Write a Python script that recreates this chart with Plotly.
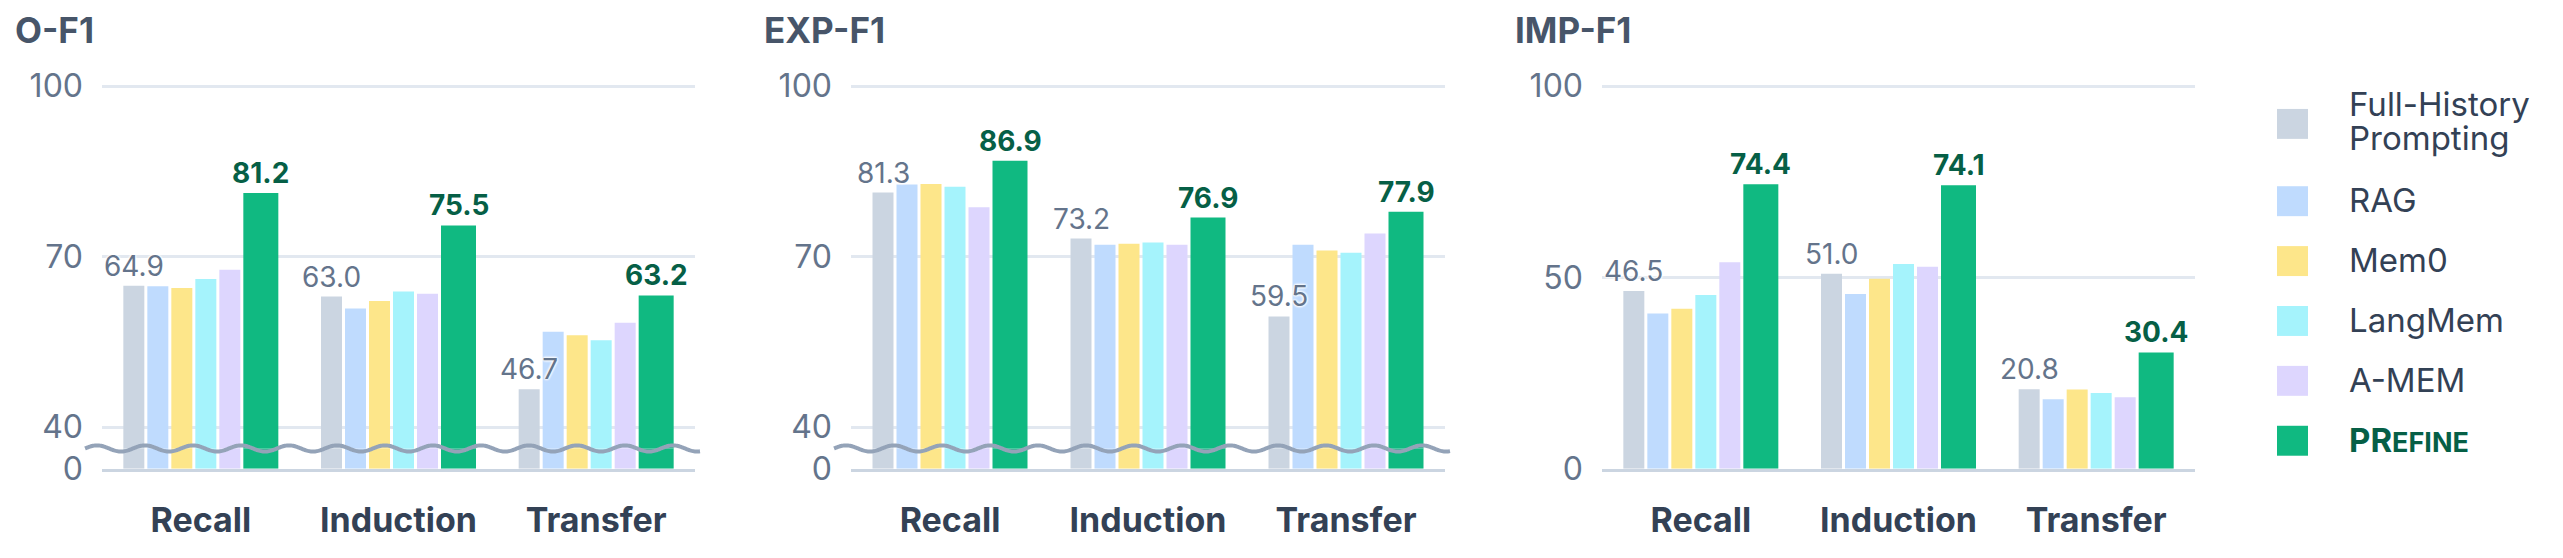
import math
import plotly.graph_objects as go

# ---------------- data ----------------
CATEGORIES = ["Recall", "Induction", "Transfer"]
SERIES = ["Full-History Prompting", "RAG", "Mem0", "LangMem", "A-MEM", "PRefine"]
COLORS = ["#cbd5e1", "#bfdbfe", "#fde68a", "#a5f3fc", "#ddd6fe", "#10b981"]
PANEL_TITLES = ["O-F1", "EXP-F1", "IMP-F1"]

# O-F1
OF1_FULL_HISTORY = [64.9, 63.0, 46.7]
OF1_RAG = [64.8, 60.9, 56.8]
OF1_MEM0 = [64.5, 62.2, 56.2]
OF1_LANGMEM = [66.1, 63.9, 55.3]
OF1_AMEM = [67.7, 63.5, 58.4]
OF1_PREFINE = [81.2, 75.5, 63.2]

# EXP-F1
EXPF1_FULL_HISTORY = [81.3, 73.2, 59.5]
EXPF1_RAG = [82.7, 72.1, 72.1]
EXPF1_MEM0 = [82.8, 72.3, 71.1]
EXPF1_LANGMEM = [82.3, 72.5, 70.7]
EXPF1_AMEM = [78.7, 72.1, 74.1]
EXPF1_PREFINE = [86.9, 76.9, 77.9]

# IMP-F1
IMPF1_FULL_HISTORY = [46.5, 51.0, 20.8]
IMPF1_RAG = [40.6, 45.7, 18.2]
IMPF1_MEM0 = [41.8, 49.7, 20.7]
IMPF1_LANGMEM = [45.4, 53.5, 19.8]
IMPF1_AMEM = [54.0, 52.8, 18.7]
IMPF1_PREFINE = [74.4, 74.1, 30.4]

BROKEN_TICKS = [40, 70, 100]
LINEAR_TICKS = [0, 50, 100]

PANEL_DATA = [
    [OF1_FULL_HISTORY, OF1_RAG, OF1_MEM0, OF1_LANGMEM, OF1_AMEM, OF1_PREFINE],
    [EXPF1_FULL_HISTORY, EXPF1_RAG, EXPF1_MEM0, EXPF1_LANGMEM, EXPF1_AMEM, EXPF1_PREFINE],
    [IMPF1_FULL_HISTORY, IMPF1_RAG, IMPF1_MEM0, IMPF1_LANGMEM, IMPF1_AMEM, IMPF1_PREFINE],
]
PANEL_BROKEN = [True, True, False]
LABELED_SERIES = [0, 5]

# ---------------- geometry / style ----------------
W, H = 2563, 558
FONT = "Inter"
PANEL_X = [(94, 687), (843, 1437), (1594, 2187)]
TOP_PX = 60
GRID100_PX = 81
GRID40_PX = 434
BREAK_PX = 456
ZERO_PX = 477

BAR_W = 21
GAP = 3
HERO_W = 35

GRID_COLOR = "#e2e8f0"
AXIS_COLOR = "#cbd5e1"
TICK_COLOR = "#64748b"
XLAB_COLOR = "#334155"
TITLE_COLOR = "#475569"
GREEN_TEXT = "#065f46"
WAVE_COLOR = "#94a3b8"
HALO = "0 0 3px #fff, 0 0 3px #fff, 0 0 3px #fff, 0 0 2px #fff"


def ypap(py):
    return 1 - py / H


def xpap(px):
    return px / W


# broken-axis scale
px_per_val = (GRID40_PX - GRID100_PX) / 60.0
upper_top = 100 + (GRID100_PX - TOP_PX) / px_per_val
upper_bottom = 40 - (BREAK_PX - GRID40_PX) / px_per_val
linear_top = 100 * (ZERO_PX - TOP_PX) / (ZERO_PX - GRID100_PX)

widths_px = [BAR_W] * 5 + [HERO_W]
total_px = sum(widths_px) + GAP * 5
starts_px = []
cur = -total_px / 2
for wpx in widths_px:
    starts_px.append(cur)
    cur += wpx + GAP

fig = go.Figure()
layout = dict(
    width=W, height=H,
    margin=dict(l=0, r=0, t=0, b=0),
    paper_bgcolor="white", plot_bgcolor="white",
    barmode="overlay", showlegend=False,
    font=dict(family=FONT),
)

axis_idx = 0
annotations = []
shapes = []
for p in range(3):
    x0px, x1px = PANEL_X[p]
    unit_px = (x1px - x0px) / len(CATEGORIES)
    data = PANEL_DATA[p]
    if PANEL_BROKEN[p]:
        subplots = [
            ("upper", (BREAK_PX, TOP_PX), (upper_bottom, upper_top)),
            ("lower", (ZERO_PX, BREAK_PX), (0, upper_bottom)),
        ]
    else:
        subplots = [("single", (ZERO_PX, TOP_PX), (0, linear_top))]

    for kind, (pb, pt), yr in subplots:
        axis_idx += 1
        xa = "x" if axis_idx == 1 else f"x{axis_idx}"
        ya = "y" if axis_idx == 1 else f"y{axis_idx}"
        bottom_axis = kind in ("lower", "single")
        for s in range(len(SERIES)):
            fig.add_trace(go.Bar(
                x=CATEGORIES, y=data[s], name=SERIES[s],
                xaxis=xa, yaxis=ya,
                width=widths_px[s] / unit_px,
                offset=starts_px[s] / unit_px,
                marker=dict(color=COLORS[s], line=dict(width=0)),
                hoverinfo="skip",
            ))
        # value labels for the baseline and for PRefine, anchored on the data
        if kind in ("upper", "single"):
            for s in LABELED_SERIES:
                hero = s == 5
                for c, cat in enumerate(CATEGORIES):
                    annotations.append(dict(
                        text=f"{data[s][c]:.1f}", xref=xa, yref=ya,
                        x=cat, y=data[s][c], xanchor="center", yanchor="bottom",
                        xshift=starts_px[s] + widths_px[s] / 2, yshift=1,
                        showarrow=False,
                        font=dict(family=FONT, size=28,
                                  color=GREEN_TEXT if hero else TICK_COLOR,
                                  weight=700 if hero else 400,
                                  shadow="none" if hero else HALO),
                    ))
        xkey = "xaxis" if axis_idx == 1 else f"xaxis{axis_idx}"
        ykey = "yaxis" if axis_idx == 1 else f"yaxis{axis_idx}"
        layout[xkey] = dict(
            domain=[xpap(x0px), xpap(x1px)], anchor=ya,
            type="category", categoryorder="array", categoryarray=CATEGORIES,
            range=[-0.5, len(CATEGORIES) - 0.5],
            showgrid=False, zeroline=False,
            showline=bottom_axis, linecolor=AXIS_COLOR, linewidth=3,
            showticklabels=bottom_axis, ticks="",
            tickfont=dict(family=FONT, size=34, color=XLAB_COLOR, weight=700),
            ticklabelstandoff=19,
            fixedrange=True,
        )
        if kind == "upper":
            tv = BROKEN_TICKS
            grid = True
        elif kind == "lower":
            tv = [0]
            grid = False
        else:
            tv = LINEAR_TICKS
            grid = True
        layout[ykey] = dict(
            domain=[ypap(pb), ypap(pt)], anchor=xa,
            range=list(yr), tickmode="array", tickvals=tv,
            ticktext=[str(v) for v in tv],
            showgrid=grid, gridcolor=GRID_COLOR, gridwidth=3,
            zeroline=False, showline=False, ticks="",
            tickfont=dict(family=FONT, size=32, color=TICK_COLOR),
            ticklabelstandoff=18,
            fixedrange=True,
        )

    # panel title
    annotations.append(dict(
        text=PANEL_TITLES[p], xref="paper", yref="paper",
        x=xpap(x0px - 89), y=ypap(23), xanchor="left", yanchor="middle",
        showarrow=False,
        font=dict(family=FONT, size=35, color=TITLE_COLOR, weight=700),
    ))

    # axis-break wave
    if PANEL_BROKEN[p]:
        wx0, wx1 = x0px - 17, x1px + 5
        amp, period = 3.2, 48.0
        n = int(wx1 - wx0)
        pts = []
        for i in range(n + 1):
            xx = wx0 + i
            yy = BREAK_PX - amp * math.sin(2 * math.pi * (xx - wx0) / period)
            pts.append(f"{xpap(xx):.6f},{ypap(yy):.6f}")
        shapes.append(dict(
            type="path", path="M" + " L".join(pts),
            xref="paper", yref="paper",
            line=dict(color=WAVE_COLOR, width=4), layer="above",
        ))

# ---------------- manual legend ----------------
LEGEND_LINES = [
    ["Full-History", "Prompting"], ["RAG"], ["Mem0"], ["LangMem"], ["A-MEM"],
    ["<b>PR<span style='font-size:27px'>EFINE</span></b>"],
]
LEGEND_CY = [120, 200, 262, 324, 386, 448]
SW_X0, SW_SIZE, TXT_X, LINE_H = 2269, 31, 2339, 36
for i in range(len(SERIES)):
    cy = LEGEND_CY[i]
    shapes.append(dict(
        type="rect", xref="paper", yref="paper",
        x0=xpap(SW_X0), x1=xpap(SW_X0 + SW_SIZE),
        y0=ypap(cy + SW_SIZE / 2), y1=ypap(cy - SW_SIZE / 2),
        fillcolor=COLORS[i], line=dict(width=0), layer="above",
    ))
    lines = LEGEND_LINES[i]
    dy = -3 if len(lines) > 1 else -1
    for j, ln in enumerate(lines):
        ly = cy + (j - (len(lines) - 1) / 2) * LINE_H + dy
        hero = i == 5
        annotations.append(dict(
            text=ln, xref="paper", yref="paper",
            x=xpap(TXT_X), y=ypap(ly), xanchor="left", yanchor="middle",
            showarrow=False,
            font=dict(family=FONT, size=33,
                      color=GREEN_TEXT if hero else XLAB_COLOR),
        ))

layout["annotations"] = annotations
layout["shapes"] = shapes
try:
    fig.update_layout(**layout)
except ValueError:
    for a in annotations:
        a["font"].pop("shadow", None)
    layout["annotations"] = annotations
    fig.update_layout(**layout)
fig.write_html("out.html")
